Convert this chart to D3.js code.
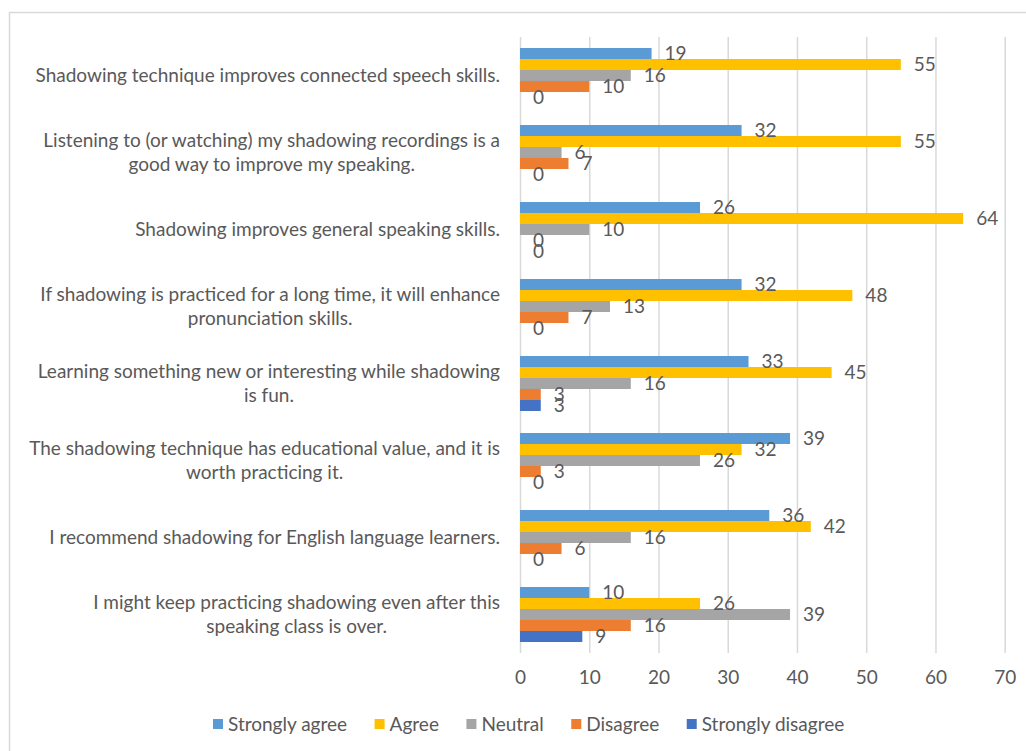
<!DOCTYPE html>
<html>
<head>
<meta charset="utf-8">
<script src="https://cdn.jsdelivr.net/npm/d3@7"></script>
<style>
  body { margin: 0; background: #fff; }
  svg text { font-family: Lato, "Open Sans", sans-serif; fill: #595959; }
</style>
</head>
<body>
<div id="chart"></div>
<script>
// statements, top to bottom (each one split into its display lines)
const statements = [
  ["Shadowing technique improves connected speech skills."],
  ["Listening to (or watching) my shadowing recordings is a", "good way to improve my speaking."],
  ["Shadowing improves general speaking skills."],
  ["If shadowing is practiced for a long time, it will enhance", "pronunciation skills."],
  ["Learning something new or interesting while shadowing", "is fun."],
  ["The shadowing technique has educational value, and it is", "worth practicing it."],
  ["I recommend shadowing for English language learners."],
  ["I might keep practicing shadowing even after this", "speaking class is over."]
];

const responses = ["Strongly agree", "Agree", "Neutral", "Disagree", "Strongly disagree"];
const colors = ["#5B9BD5", "#FFC000", "#A5A5A5", "#ED7D31", "#4472C4"];

// values per response, in statement order
const stronglyAgree    = [19, 32, 26, 32, 33, 39, 36, 10];
const agree            = [55, 55, 64, 48, 45, 32, 42, 26];
const neutral          = [16, 6, 10, 13, 16, 26, 16, 39];
const disagree         = [10, 7, 0, 7, 3, 3, 6, 16];
const stronglyDisagree = [0, 0, 0, 0, 3, 0, 0, 9];

const xTicks = [0, 10, 20, 30, 40, 50, 60, 70];

const series = [stronglyAgree, agree, neutral, disagree, stronglyDisagree];

const width = 1026, height = 751;
const margin = { top: 37, right: 21, bottom: 98, left: 520 };
const fontSize = '19px';

const svg = d3.select('#chart').append('svg')
  .attr('width', width)
  .attr('height', height);

// outer chart frame
svg.append('rect')
  .attr('x', 9.5).attr('y', 12.5)
  .attr('width', 1040).attr('height', 760)
  .attr('fill', 'none')
  .attr('stroke', '#d9d9d9')
  .attr('stroke-width', 1.5);

const plotW = width - margin.left - margin.right;
const plotH = height - margin.top - margin.bottom;

const chart = svg.append('g')
  .attr('transform', `translate(${margin.left},${margin.top})`);

const xScale = d3.scaleLinear().domain([0, 70]).range([0, plotW - 0.3]);
const yScale = d3.scaleBand()
  .domain(d3.range(statements.length))
  .range([0, plotH])
  .paddingInner(0.286)
  .paddingOuter(0.143);
const ySub = d3.scaleBand().domain(d3.range(responses.length)).range([0, yScale.bandwidth()]);

// gridlines + tick labels
const xAxis = d3.axisBottom(xScale)
  .tickValues(xTicks)
  .tickSize(-plotH)
  .tickPadding(18)
  .tickFormat(d3.format('d'));

const xAxisG = chart.append('g')
  .attr('transform', `translate(0,${plotH})`)
  .call(xAxis);
xAxisG.select('.domain').remove();
xAxisG.selectAll('line').attr('stroke', '#d9d9d9').attr('stroke-width', 1.5);
xAxisG.selectAll('text')
  .style('font-size', fontSize)
  .style('fill', '#595959');

// bars
const groups = chart.selectAll('.group')
  .data(statements)
  .join('g')
  .attr('class', 'group')
  .attr('transform', (d, i) => `translate(0,${yScale(i)})`);

groups.each(function(d, i) {
  const g = d3.select(this);
  const vals = series.map((s, k) => ({ k: k, v: s[i] }));
  g.selectAll('rect')
    .data(vals)
    .join('rect')
    .attr('x', 0)
    .attr('y', e => ySub(e.k))
    .attr('width', e => xScale(e.v))
    .attr('height', ySub.bandwidth())
    .attr('fill', e => colors[e.k]);

  g.selectAll('.val')
    .data(vals)
    .join('text')
    .attr('class', 'val')
    .attr('x', e => xScale(e.v) + 13)
    .attr('y', e => ySub(e.k) + ySub.bandwidth() / 2)
    .attr('dy', '0.35em')
    .style('font-size', fontSize)
    .text(e => e.v);
});

// category labels, centred lines in a right-aligned block
const lineH = 24;
const labelG = chart.append('g');
statements.forEach((lines, i) => {
  const cy = yScale(i) + yScale.bandwidth() / 2;
  const t = labelG.append('text')
    .attr('text-anchor', 'middle')
    .style('font-size', fontSize);
  lines.forEach((ln, j) => {
    t.append('tspan')
      .attr('y', cy + (j - (lines.length - 1) / 2) * lineH)
      .attr('dy', '0.35em')
      .text(ln);
  });
  // width of the widest line sets the block
  let w = 0;
  t.selectAll('tspan').each(function() { w = Math.max(w, this.getComputedTextLength()); });
  t.selectAll('tspan').attr('x', -20 - w / 2);
});

// legend
const legend = svg.append('g').attr('transform', 'translate(0,724)');
let lx = 213;
responses.forEach((r, k) => {
  legend.append('rect')
    .attr('x', lx).attr('y', -5)
    .attr('width', 10).attr('height', 10)
    .attr('fill', colors[k]);
  const t = legend.append('text')
    .attr('x', lx + 15)
    .attr('dy', '0.35em')
    .style('font-size', fontSize)
    .text(r);
  lx += 15 + t.node().getComputedTextLength() + 27.5;
});
</script>
</body>
</html>
